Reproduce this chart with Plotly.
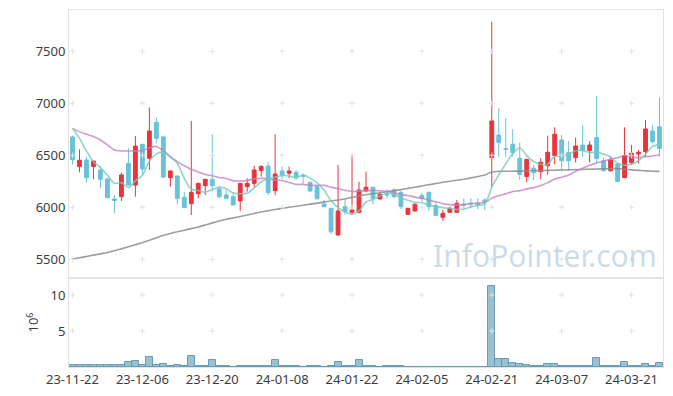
import plotly.graph_objects as go

dates = [
    "2023-11-22", "2023-11-23", "2023-11-24", "2023-11-27", "2023-11-28", "2023-11-29", "2023-11-30",
    "2023-12-01", "2023-12-04", "2023-12-05", "2023-12-06", "2023-12-07", "2023-12-08", "2023-12-11",
    "2023-12-12", "2023-12-13", "2023-12-14", "2023-12-15", "2023-12-18", "2023-12-19", "2023-12-20",
    "2023-12-21", "2023-12-22", "2023-12-26", "2023-12-27", "2023-12-28", "2024-01-02", "2024-01-03",
    "2024-01-04", "2024-01-05", "2024-01-08", "2024-01-09", "2024-01-10", "2024-01-11", "2024-01-12",
    "2024-01-15", "2024-01-16", "2024-01-17", "2024-01-18", "2024-01-19", "2024-01-22", "2024-01-23",
    "2024-01-24", "2024-01-25", "2024-01-26", "2024-01-29", "2024-01-30", "2024-01-31", "2024-02-01",
    "2024-02-02", "2024-02-05", "2024-02-06", "2024-02-07", "2024-02-08", "2024-02-13", "2024-02-14",
    "2024-02-15", "2024-02-16", "2024-02-19", "2024-02-20", "2024-02-21", "2024-02-22", "2024-02-23",
    "2024-02-26", "2024-02-27", "2024-02-28", "2024-02-29", "2024-03-04", "2024-03-05", "2024-03-06",
    "2024-03-07", "2024-03-08", "2024-03-11", "2024-03-12", "2024-03-13", "2024-03-14", "2024-03-15",
    "2024-03-18", "2024-03-19", "2024-03-20", "2024-03-21", "2024-03-22", "2024-03-25", "2024-03-26",
    "2024-03-27",
]

open_ = [6676, 6391, 6455, 6391, 6359, 6272, 6080, 6102, 6423, 6214, 6605, 6471, 6817, 6676, 6285,
         6301, 6096, 6035, 6131, 6208, 6269, 6176, 6118, 6102, 6061, 6198, 6230, 6352, 6397, 6160,
         6349, 6327, 6336, 6305, 6240, 6198, 6032, 5990, 5734, 6006, 5952, 5952, 6157, 6192, 6080,
         6125, 6166, 6141, 5932, 5964, 6112, 6144, 6016, 5904, 5952, 5952, 6032, 6038, 6038, 6070,
         6477, 6695, 6562, 6606, 6471, 6295, 6375, 6343, 6400, 6497, 6647, 6525, 6477, 6599, 6545,
         6670, 6448, 6352, 6416, 6285, 6429, 6513, 6535, 6734, 6775]
high = [6690, 6557, 6484, 6450, 6400, 6280, 6118, 6333, 6567, 6686, 6610, 6961, 6862, 6690, 6352,
        6305, 6150, 6830, 6235, 6272, 6702, 6208, 6166, 6144, 6233, 6278, 6400, 6407, 6439, 6700,
        6391, 6391, 6359, 6327, 6245, 6214, 6070, 5995, 6407, 6070, 6497, 6246, 6343, 6198, 6144,
        6173, 6182, 6157, 5995, 6038, 6141, 6148, 6038, 5974, 6006, 6070, 6086, 6086, 6086, 6086,
        7785, 6952, 6856, 6750, 6622, 6465, 6407, 6471, 6689, 6769, 6695, 6637, 6670, 6791, 6637,
        7070, 6477, 6487, 6420, 6769, 6599, 6551, 6840, 6791, 7057]
low = [6413, 6336, 6237, 6269, 6182, 6090, 5942, 6061, 6210, 6102, 6311, 6359, 6615, 6280, 6198,
       6029, 5990, 5926, 6086, 6118, 6150, 6086, 6080, 6020, 5964, 6150, 6189, 6295, 6118, 6118,
       6269, 6279, 6263, 6221, 6144, 6070, 6000, 5740, 5724, 5926, 5926, 5940, 6144, 6029, 6077,
       6086, 6086, 5984, 5928, 5960, 6054, 5964, 5916, 5868, 5948, 5948, 5990, 5990, 5980, 5974,
       6198, 6487, 6487, 6487, 6263, 6240, 6263, 6269, 6311, 6413, 6352, 6359, 6429, 6487, 6429,
       6436, 6343, 6343, 6243, 6280, 6407, 6423, 6487, 6615, 6487]
close = [6458, 6452, 6285, 6445, 6269, 6093, 6065, 6311, 6214, 6589, 6368, 6734, 6663, 6290, 6349,
         6086, 5997, 6144, 6230, 6269, 6208, 6102, 6086, 6022, 6230, 6230, 6359, 6391, 6141, 6320,
         6311, 6349, 6285, 6298, 6157, 6086, 6006, 5766, 5964, 5958, 5974, 6166, 6192, 6086, 6125,
         6119, 6102, 6006, 5990, 6029, 6086, 6006, 5920, 5942, 5990, 6038, 6022, 6029, 6022, 6054,
         6830, 6622, 6557, 6525, 6317, 6461, 6333, 6432, 6529, 6702, 6448, 6448, 6589, 6545, 6599,
         6468, 6352, 6455, 6247, 6497, 6519, 6529, 6753, 6631, 6567]

volume_m = [0.30, 0.25, 0.28, 0.25, 0.28, 0.25, 0.28, 0.30, 0.69, 0.83, 0.28, 1.34, 0.23, 0.37, 0.10,
            0.23, 0.10, 1.48, 0.10, 0.10, 0.97, 0.10, 0.10, 0.02, 0.10, 0.10, 0.10, 0.10, 0.10, 0.97,
            0.10, 0.10, 0.10, 0.02, 0.10, 0.10, 0.02, 0.10, 0.69, 0.10, 0.10, 0.97, 0.10, 0.10, 0.02,
            0.10, 0.10, 0.10, 0.02, 0.02, 0.02, 0.02, 0.02, 0.02, 0.02, 0.02, 0.02, 0.02, 0.02, 0.02,
            11.25, 1.06, 1.06, 0.50, 0.37, 0.23, 0.10, 0.10, 0.37, 0.37, 0.10, 0.10, 0.10, 0.10, 0.10,
            1.20, 0.10, 0.10, 0.10, 0.65, 0.10, 0.10, 0.37, 0.10, 0.50]

ma5 = [6759, 6663, 6541, 6439, 6382, 6309, 6231, 6237, 6190, 6254, 6309, 6443, 6514, 6529, 6481,
       6424, 6277, 6173, 6161, 6145, 6170, 6191, 6179, 6137, 6130, 6134, 6185, 6246, 6270, 6288,
       6304, 6302, 6281, 6313, 6280, 6235, 6166, 6063, 5996, 5956, 5934, 5966, 6051, 6075, 6109,
       6138, 6125, 6088, 6068, 6049, 6043, 6023, 6006, 5997, 5989, 5979, 5982, 6004, 6020, 6033,
       6191, 6311, 6417, 6518, 6570, 6496, 6439, 6414, 6414, 6491, 6489, 6512, 6543, 6546, 6526,
       6530, 6511, 6484, 6424, 6404, 6414, 6449, 6509, 6586, 6600]
ma20 = [6759, 6725, 6702, 6680, 6647, 6600, 6550, 6541, 6541, 6541, 6545, 6570, 6585, 6545, 6490,
        6439, 6400, 6365, 6340, 6316, 6303, 6286, 6276, 6254, 6253, 6259, 6274, 6278, 6274, 6261,
        6258, 6239, 6220, 6220, 6211, 6211, 6211, 6192, 6179, 6163, 6152, 6155, 6160, 6163, 6158,
        6153, 6140, 6121, 6113, 6098, 6087, 6070, 6052, 6034, 6026, 6023, 6024, 6037, 6040, 6045,
        6088, 6111, 6129, 6151, 6160, 6177, 6189, 6210, 6237, 6271, 6289, 6311, 6345, 6375, 6405,
        6427, 6443, 6464, 6476, 6498, 6482, 6478, 6487, 6493, 6505]
ma_long = [5503, 5515, 5527, 5540, 5552, 5565, 5582, 5600, 5620, 5640, 5660, 5683, 5706, 5730, 5748,
           5765, 5780, 5795, 5810, 5830, 5850, 5868, 5885, 5898, 5912, 5925, 5940, 5955, 5967, 5979,
           5990, 6000, 6010, 6020, 6030, 6040, 6050, 6060, 6070, 6080, 6095, 6110, 6120, 6130, 6140,
           6150, 6160, 6170, 6182, 6193, 6205, 6217, 6228, 6240, 6250, 6260, 6270, 6283, 6296, 6310,
           6340, 6345, 6346, 6347, 6348, 6350, 6352, 6353, 6355, 6356, 6358, 6360, 6362, 6364, 6366,
           6368, 6370, 6371, 6372, 6366, 6360, 6355, 6350, 6347, 6345]

tick_dates = dates[::10]
tick_text = [d[2:] for d in tick_dates]
price_ticks = [5500, 6000, 6500, 7000, 7500]
vol_ticks = [5, 10]

UP = "#e8343c"
DOWN = "#68c2da"
FONT = "Noto Sans"

fig = go.Figure()

fig.add_trace(go.Candlestick(
    x=dates, open=open_, high=high, low=low, close=close,
    increasing=dict(line=dict(color=UP, width=1), fillcolor=UP),
    decreasing=dict(line=dict(color=DOWN, width=1), fillcolor=DOWN),
    whiskerwidth=0, xaxis="x", yaxis="y", showlegend=False, hoverinfo="skip",
))
fig.add_trace(go.Scatter(x=dates, y=ma_long, mode="lines", xaxis="x", yaxis="y",
                         line=dict(color="rgba(140,140,140,0.85)", width=1.6, shape="spline", smoothing=0.6),
                         showlegend=False, hoverinfo="skip"))
fig.add_trace(go.Scatter(x=dates, y=ma20, mode="lines", xaxis="x", yaxis="y",
                         line=dict(color="rgba(196,128,196,0.8)", width=1.6, shape="spline", smoothing=0.6),
                         showlegend=False, hoverinfo="skip"))
fig.add_trace(go.Scatter(x=dates, y=ma5, mode="lines", xaxis="x", yaxis="y",
                         line=dict(color="rgba(120,200,185,0.8)", width=1.6, shape="spline", smoothing=0.8),
                         showlegend=False, hoverinfo="skip"))

fig.add_trace(go.Bar(x=dates, y=volume_m, xaxis="x2", yaxis="y2",
                     marker=dict(color="rgba(120,172,195,0.75)", line=dict(color="rgba(95,150,175,0.9)", width=1)),
                     showlegend=False, hoverinfo="skip"))

# faint grid crosses at tick intersections
gx, gy = [], []
for d in tick_dates:
    for p in price_ticks:
        gx.append(d); gy.append(p)
fig.add_trace(go.Scatter(x=gx, y=gy, mode="markers", xaxis="x", yaxis="y",
                         marker=dict(symbol="cross-thin", size=4, line=dict(color="#e2e2e2", width=1)),
                         showlegend=False, hoverinfo="skip"))
gx2, gy2 = [], []
for d in tick_dates:
    for v in vol_ticks:
        gx2.append(d); gy2.append(v)
fig.add_trace(go.Scatter(x=gx2, y=gy2, mode="markers", xaxis="x2", yaxis="y2",
                         marker=dict(symbol="cross-thin", size=4, line=dict(color="#e2e2e2", width=1)),
                         showlegend=False, hoverinfo="skip"))

axis_common = dict(showline=True, linecolor="#e3e3e3", linewidth=1, mirror=True,
                   showgrid=False, zeroline=False, ticks="", automargin=False,
                   tickfont=dict(family=FONT, size=13, color="#3c3c3c"))

# figure sits inside the page's default 8px body margin
split = (359 - 270) / 357.0
fig.update_layout(
    width=665, height=388,
    margin=dict(l=61, r=10, t=2, b=29, autoexpand=False),
    paper_bgcolor="white", plot_bgcolor="white",
    bargap=0, boxgap=0.22,
    xaxis=dict(domain=[0, 1], anchor="y", type="category", categoryorder="array", categoryarray=dates,
               range=[-0.5, len(dates) - 0.5], rangeslider=dict(visible=False),
               showticklabels=False, tickvals=tick_dates, **axis_common),
    xaxis2=dict(domain=[0, 1], anchor="y2", type="category", matches="x",
                tickvals=tick_dates, ticktext=tick_text, **axis_common),
    yaxis=dict(domain=[split, 1], anchor="x", range=[5320, 7897], tickvals=price_ticks, **axis_common),
    yaxis2=dict(domain=[0, split], anchor="x2", range=[0, 12.36], tickvals=vol_ticks,
                title=dict(text="10<sup>6</sup>", font=dict(family=FONT, size=13, color="#3c3c3c"), standoff=8),
                **axis_common),
    annotations=[dict(text="InfoPointer.com", xref="paper", yref="paper", x=0.801, y=0.311,
                      xanchor="center", yanchor="middle", showarrow=False,
                      font=dict(family=FONT, size=30, color="rgba(120,160,190,0.38)"))],
)

fig.write_html("out.html")
